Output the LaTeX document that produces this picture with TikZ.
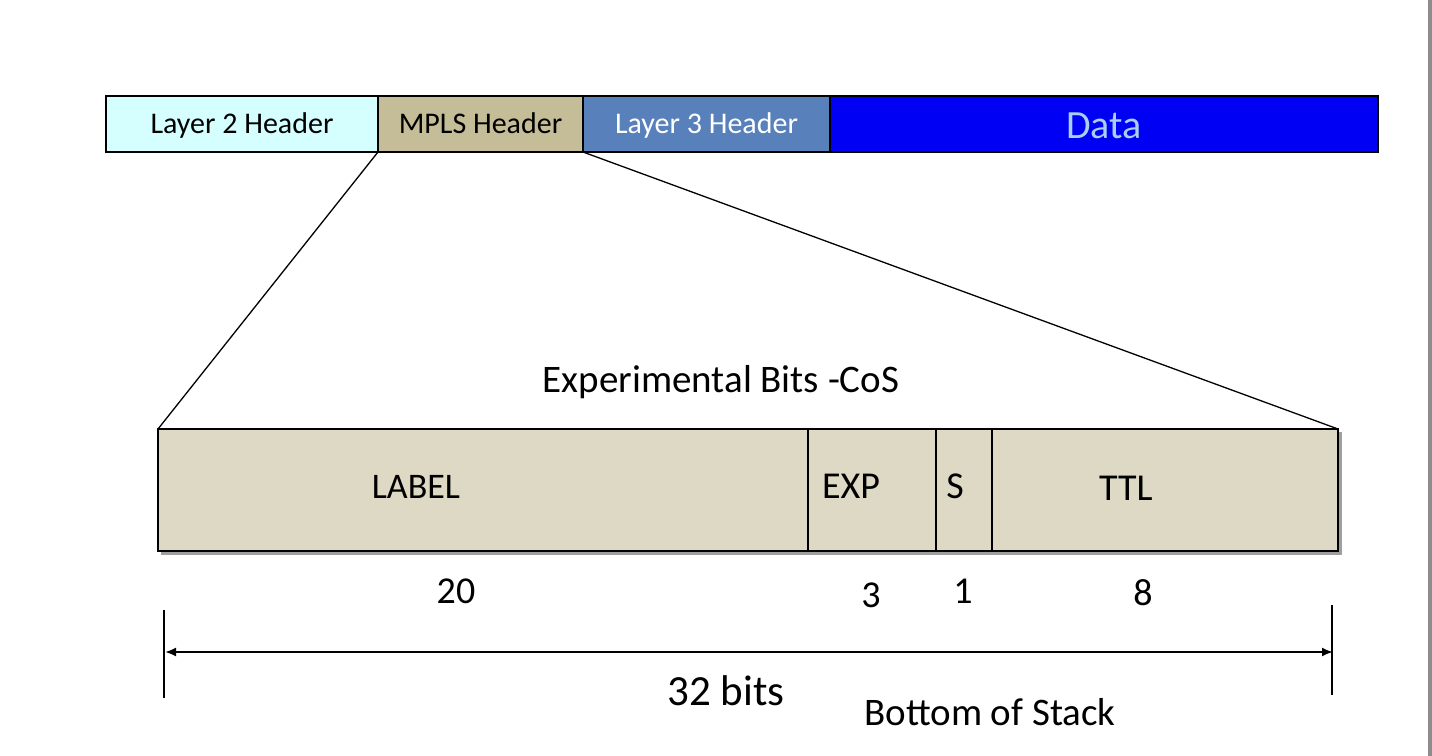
\documentclass[tikz,border=0pt]{standalone}
\usepackage{fontspec}
\setmainfont{Carlito}
\usetikzlibrary{arrows.meta, positioning}

\definecolor{ltwo}{RGB}{213,255,255}
\definecolor{mplsc}{RGB}{196,189,151}
\definecolor{lthree}{RGB}{88,128,186}
\definecolor{datac}{RGB}{0,0,245}
\definecolor{datatx}{RGB}{165,208,240}
\definecolor{fieldc}{RGB}{221,217,196}

\begin{document}
\begin{tikzpicture}[x=0.5pt, y=-0.5pt,
    hd/.style={draw, line width=0.6pt, inner sep=0pt, outer sep=0pt,
      minimum height=28pt, text height=11pt, text depth=2pt,
      font=\fontsize{15}{17}\selectfont},
    fd/.style={draw, line width=0.6pt, fill=fieldc, inner sep=0pt,
      outer sep=0pt, minimum height=61pt},
    tx/.style={anchor=base, inner sep=0pt, font=\fontsize{19}{22}\selectfont}]
  \useasboundingbox (0,0) rectangle (1432,756);
  \fill[gray!90] (1428,0) rectangle (1432,756);

  % packet
  \node[hd, fill=ltwo, minimum width=136pt, anchor=north west]
    (l2) at (106,96) {Layer 2 Header};
  \node[hd, fill=mplsc, minimum width=102.5pt, right=0pt of l2] (mpls) {MPLS Header};
  \node[hd, fill=lthree, text=white, minimum width=123.5pt, right=0pt of mpls]
    (l3) {Layer 3 Header};
  \node[hd, fill=datac, text=datatx, minimum width=274pt, right=0pt of l3,
    text height=15pt, text depth=1pt, font=\fontsize{20}{22}\selectfont] (data) {Data};

  % label entry
  \fill[gray!75] (161,432) rectangle (1342,555);
  \node[fd, minimum width=325pt, anchor=north west] (lab) at (158,429) {};
  \node[fd, minimum width=64pt, right=0pt of lab] (exp) {};
  \node[fd, minimum width=28pt, right=0pt of exp] (sb) {};
  \node[fd, minimum width=173pt, right=0pt of sb] (ttl) {};

  \draw[line width=0.65pt] (mpls.south west) -- (lab.north west);
  \draw[line width=0.65pt] (mpls.south east) -- (ttl.north east);

  \node[tx, font=\fontsize{19.5}{22}\selectfont] (cos) at (721,392) {Experimental Bits -CoS};
  \node[tx, font=\fontsize{18}{22}\selectfont] (labt) at (416,498) {LABEL};
  \node[tx] (expt) at (851,498) {EXP};
  \node[tx] (st) at (955,498) {S};
  \node[tx] (ttlt) at (1126,500) {TTL};
  \node[tx] (n20) at (456,603) {20};
  \node[tx] (n3) at (871,607) {3};
  \node[tx] (n1) at (963,603) {1};
  \node[tx] (n8) at (1143,605) {8};

  % width
  \coordinate (wl) at (165,652);
  \coordinate (wr) at (1333,652);
  \draw[line width=0.6pt] (164,610) -- (164,698);
  \draw[line width=0.6pt] (1332,605) -- (1332,695);
  \draw[{Latex[length=5.5pt,width=4.5pt]}-{Latex[length=5.5pt,width=4.5pt]}, line width=1pt]
    (wl) -- (wr);
  \node[tx, font=\fontsize{21.5}{24}\selectfont] (bits) at (726,705) {32 bits};
  \node[tx, font=\fontsize{19.5}{22}\selectfont] (bos) at (990,725) {Bottom of Stack};
\end{tikzpicture}
\end{document}
